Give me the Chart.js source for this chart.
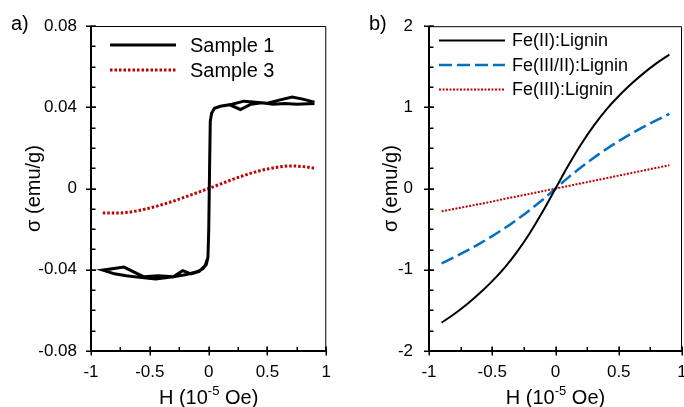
<!DOCTYPE html>
<html>
<head>
<meta charset="utf-8">
<script src="https://cdn.jsdelivr.net/npm/chart.js@4.4.1/dist/chart.umd.min.js"></script>
<style>
html, body { margin: 0; padding: 0; background: #fff; overflow: hidden; width: 684px; height: 407px; }
.panel { position: absolute; top: 0; }
#wrapA { left: 0; }
#wrapB { left: 342px; }
</style>
</head>
<body>
<div class="panel" id="wrapA"><canvas id="chartA" width="342" height="407"></canvas></div>
<div class="panel" id="wrapB"><canvas id="chartB" width="360" height="407"></canvas></div>
<script>
// ---- data ----
const hTicks = [-1, -0.5, 0, 0.5, 1];
const hTickLabels = ['-1', '-0.5', '0', '0.5', '1'];
const sigmaTicksA = [-0.08, -0.04, 0, 0.04, 0.08];
const sigmaTickLabelsA = ['-0.08', '-0.04', '0', '0.04', '0.08'];
const sigmaTicksB = [-2, -1, 0, 1, 2];
const sigmaTickLabelsB = ['-2', '-1', '0', '1', '2'];

// a) Sample 1: descending branch then ascending branch of the loop
const sample1H = [
    0.9, 0.8, 0.71, 0.6, 0.5, 0.4, 0.3, 0.2, 0.1, 0.05, 0.025, 0.014, 0.008, 0.001, -0.006, -0.02, -0.05, -0.1,
    -0.2, -0.3, -0.45, -0.55, -0.7, -0.8, -0.9,
    -0.72, -0.55, -0.43, -0.3, -0.22, -0.15, -0.08, -0.03, -0.006, 0.001, 0.008, 0.014, 0.025, 0.05, 0.1,
    0.18, 0.27, 0.36, 0.45, 0.55, 0.65, 0.75, 0.9
];
const sample1Sigma = [
    0.0425, 0.0440, 0.0450, 0.0435, 0.0420, 0.0425, 0.0430, 0.0415, 0.0405, 0.0395, 0.0370, 0.0330, 0.0100, -0.0200, -0.0340, -0.0375, -0.0395, -0.0410,
    -0.0425, -0.0435, -0.0445, -0.0440, -0.0430, -0.0420, -0.0402,
    -0.0387, -0.0435, -0.0430, -0.0435, -0.0404, -0.0420, -0.0408, -0.0380, -0.0340, -0.0200, 0.0100, 0.0330, 0.0370, 0.0395, 0.0405,
    0.0412, 0.0389, 0.0415, 0.0422, 0.0415, 0.0418, 0.0415, 0.0418
];

const sample3H = [-0.9, -0.8, -0.7, -0.6, -0.5, -0.4, -0.3, -0.2, -0.1, 0, 0.1, 0.2, 0.3, 0.4, 0.5, 0.6, 0.7, 0.8, 0.9];
const sample3Sigma = [-0.0120, -0.0121, -0.0118, -0.0109, -0.0096, -0.0080, -0.0062, -0.0042, -0.0021, 0,
    0.0022, 0.0044, 0.0064, 0.0082, 0.0096, 0.0106, 0.0111, 0.0108, 0.0100];

// b) lignin samples
const ligninH = [-0.9, -0.8, -0.7, -0.6, -0.5, -0.4, -0.3, -0.2, -0.1, 0, 0.1, 0.2, 0.3, 0.4, 0.5, 0.6, 0.7, 0.8, 0.9];
const fe2Sigma = [-1.65, -1.545, -1.425, -1.29, -1.14, -0.97, -0.77, -0.54, -0.28, 0, 0.28, 0.54, 0.77, 0.97, 1.14, 1.29, 1.425, 1.545, 1.65];
const fe32Sigma = [-0.92, -0.844, -0.764, -0.678, -0.585, -0.485, -0.377, -0.26, -0.135, 0, 0.135, 0.26, 0.377, 0.485, 0.585, 0.678, 0.764, 0.844, 0.92];
const fe3Sigma = [-0.28, -0.25, -0.22, -0.19, -0.16, -0.125, -0.095, -0.063, -0.031, 0, 0.032, 0.064, 0.096, 0.128, 0.16, 0.192, 0.224, 0.256, 0.288];

const FONT = "'Liberation Sans', Arial, sans-serif";

const toPoints = (xs, ys) => xs.map((x, i) => ({ x: x, y: ys[i] }));
const fixedTicks = values => scale => { scale.ticks = values.map(v => ({ value: v })); };

// frame, cross/inside tick marks, titles, panel letter and legend
const framePlugin = {
    id: 'frame',
    afterDraw(chart, args, opts) {
        const { ctx, chartArea: a, scales: { x, y } } = chart;
        ctx.save();
        ctx.strokeStyle = '#000';

        ctx.lineWidth = 1;
        ctx.beginPath();
        ctx.moveTo(a.left, a.top + 0.5);
        ctx.lineTo(a.right - 0.5, a.top + 0.5);
        ctx.lineTo(a.right - 0.5, a.bottom);
        ctx.stroke();

        ctx.lineWidth = 2;
        ctx.beginPath();
        ctx.moveTo(a.left, a.top);
        ctx.lineTo(a.left, a.bottom);
        ctx.lineTo(a.right, a.bottom);
        ctx.stroke();

        // minor ticks (inside)
        ctx.lineWidth = 1.5;
        ctx.beginPath();
        for (let v = x.min; v <= x.max + 1e-9; v += opts.minorX) {
            const px = Math.round(x.getPixelForValue(v)) + 0.25;
            ctx.moveTo(px, a.bottom);
            ctx.lineTo(px, a.bottom - 4);
        }
        for (let v = y.min; v <= y.max + 1e-9; v += opts.minorY) {
            const py = Math.round(y.getPixelForValue(v)) + 0.25;
            ctx.moveTo(a.left, py);
            ctx.lineTo(a.left + 4.5, py);
        }
        ctx.stroke();
        // major ticks (cross)
        ctx.beginPath();
        x.ticks.forEach(t => {
            const px = Math.round(x.getPixelForValue(t.value)) + 0.25;
            ctx.moveTo(px, a.bottom - 4.5);
            ctx.lineTo(px, a.bottom + 4.5);
        });
        y.ticks.forEach(t => {
            const py = Math.round(y.getPixelForValue(t.value)) + 0.25;
            ctx.moveTo(a.left - 5, py);
            ctx.lineTo(a.left + 5, py);
        });
        ctx.stroke();

        ctx.fillStyle = '#000';
        // panel letter
        ctx.font = '20px ' + FONT;
        ctx.textAlign = 'left';
        ctx.textBaseline = 'alphabetic';
        ctx.fillText(opts.panel, opts.panelX, 30);

        // y title
        ctx.save();
        ctx.translate(opts.yTitleX, (a.top + a.bottom) / 2);
        ctx.rotate(-Math.PI / 2);
        ctx.textAlign = 'center';
        ctx.textBaseline = 'middle';
        ctx.fillText('σ (emu/g)', 0, 0);
        ctx.restore();

        // x title with superscript
        const parts = [['H (10', '20px ' + FONT, 0], ['-5', '13px ' + FONT, -8.5], [' Oe)', '20px ' + FONT, 0]];
        let total = 0;
        parts.forEach(p => { ctx.font = p[1]; total += ctx.measureText(p[0]).width; });
        let cx = (a.left + a.right) / 2 - total / 2;
        parts.forEach(p => {
            ctx.font = p[1];
            ctx.fillText(p[0], cx, 403.5 + p[2]);
            cx += ctx.measureText(p[0]).width;
        });

        // legend
        const lg = opts.legend;
        chart.data.datasets.forEach((ds, i) => {
            const ly = lg.rows[i];
            ctx.save();
            ctx.strokeStyle = ds.borderColor;
            ctx.lineWidth = ds.borderWidth;
            ctx.setLineDash(ds.borderDash || []);
            ctx.beginPath();
            ctx.moveTo(lg.x0, ly);
            ctx.lineTo(lg.x1, ly);
            ctx.stroke();
            ctx.restore();
            ctx.font = lg.fontSize + 'px ' + FONT;
            ctx.textBaseline = 'middle';
            ctx.fillText(ds.label, lg.textX, ly + 1);
        });
        ctx.restore();
    }
};

function makeScales(yTicks, yLabels, yMin, yMax, yWidth, yPad) {
    return {
        x: {
            type: 'linear', min: -1, max: 1,
            afterBuildTicks: fixedTicks(hTicks),
            afterFit: s => { s.height = 56; },
            grid: { display: false, drawTicks: false },
            border: { display: false },
            ticks: {
                callback: (v, i) => hTickLabels[i],
                font: { family: FONT, size: 17 }, color: '#000',
                padding: 11, autoSkip: false, maxRotation: 0
            }
        },
        y: {
            type: 'linear', min: yMin, max: yMax,
            afterBuildTicks: fixedTicks(yTicks),
            afterFit: s => { s.width = yWidth; },
            grid: { display: false, drawTicks: false },
            border: { display: false },
            ticks: {
                callback: (v, i) => yLabels[i],
                font: { family: FONT, size: 17 }, color: '#000',
                padding: yPad, autoSkip: false
            }
        }
    };
}

// a) Sample 1 and Sample 3
new Chart(document.getElementById('chartA'), {
    type: 'scatter',
    data: {
        datasets: [
            {
                label: 'Sample 1',
                data: toPoints(sample1H, sample1Sigma),
                showLine: true, borderColor: '#000', borderWidth: 3,
                pointRadius: 0, tension: 0
            },
            {
                label: 'Sample 3',
                data: toPoints(sample3H, sample3Sigma),
                showLine: true, borderColor: '#C00000', borderWidth: 3, borderDash: [2.5, 2],
                pointRadius: 0, cubicInterpolationMode: 'monotone'
            }
        ]
    },
    options: {
        responsive: false,
        animation: false,
        layout: { padding: { left: 0, top: 26, right: 6, bottom: 0 } },
        scales: makeScales(sigmaTicksA, sigmaTickLabelsA, -0.08, 0.08, 91, 14),
        plugins: {
            legend: { display: false },
            tooltip: { enabled: false },
            frame: {
                panel: 'a)', panelX: 11, yTitleX: 34, minorX: 0.25, minorY: 0.01,
                legend: { x0: 110, x1: 176, textX: 190, rows: [45, 70], fontSize: 20 }
            }
        }
    },
    plugins: [framePlugin]
});

// b) lignin complexes
new Chart(document.getElementById('chartB'), {
    type: 'scatter',
    data: {
        datasets: [
            {
                label: 'Fe(II):Lignin',
                data: toPoints(ligninH, fe2Sigma),
                showLine: true, borderColor: '#000', borderWidth: 2,
                pointRadius: 0, cubicInterpolationMode: 'monotone'
            },
            {
                label: 'Fe(III/II):Lignin',
                data: toPoints(ligninH, fe32Sigma),
                showLine: true, borderColor: '#0070C0', borderWidth: 2.5, borderDash: [13, 5],
                pointRadius: 0, cubicInterpolationMode: 'monotone'
            },
            {
                label: 'Fe(III):Lignin',
                data: toPoints(ligninH, fe3Sigma),
                showLine: true, borderColor: '#C00000', borderWidth: 2, borderDash: [2, 1.5],
                pointRadius: 0, cubicInterpolationMode: 'monotone'
            }
        ]
    },
    options: {
        responsive: false,
        animation: false,
        layout: { padding: { left: 0, top: 26, right: 20, bottom: 0 } },
        scales: makeScales(sigmaTicksB, sigmaTickLabelsB, -2, 2, 87, 16),
        plugins: {
            legend: { display: false },
            tooltip: { enabled: false },
            frame: {
                panel: 'b)', panelX: 27, yTitleX: 49, minorX: 0.25, minorY: 0.25,
                legend: { x0: 97, x1: 163, textX: 170, rows: [40.5, 65, 89.5], fontSize: 18 }
            }
        }
    },
    plugins: [framePlugin]
});
</script>
</body>
</html>
